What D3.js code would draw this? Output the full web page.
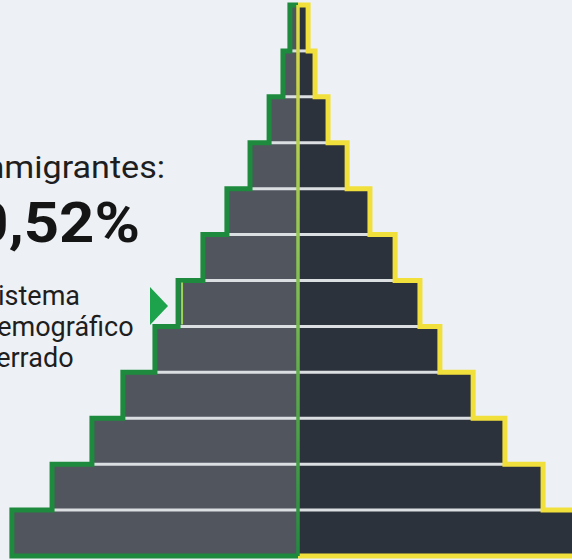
<!DOCTYPE html>
<html>
<head>
<meta charset="utf-8">
<script src="https://cdn.jsdelivr.net/npm/d3@7"></script>
<style>
  html, body { margin: 0; padding: 0; background: #edf1f5; }
  svg { display: block; font-family: Roboto, "Noto Sans", sans-serif; }
</style>
</head>
<body>
<svg width="572" height="560"></svg>
<script>
// age groups, oldest at the top
const ageGroups = ['55+', '50-54', '45-49', '40-44', '35-39', '30-34', '25-29', '20-24', '15-19', '10-14', '5-9', '0-4'];
// share of population (%)
const menValues = [0.28, 0.52, 1.0, 1.66, 2.46, 3.29, 4.15, 4.95, 6.06, 7.13, 8.51, 9.9];
const womenValues = [0.35, 0.59, 1.04, 1.7, 2.49, 3.36, 4.22, 4.91, 6.06, 7.16, 8.48, 9.9];

const svg = d3.select('svg');
const width = +svg.attr('width');
const height = +svg.attr('height');

const cx = 298;
const rows = ageGroups.map((age, i) => ({ age, men: menValues[i], women: womenValues[i] }));

const xScale = d3.scaleLinear().domain([0, 10]).range([0, 289]);
const yScale = d3.scaleBand().domain(ageGroups).range([5, 556]).padding(0);
const bw = yScale.bandwidth();

const defs = svg.append('defs');
const grad = defs.append('linearGradient')
    .attr('id', 'centerGrad')
    .attr('gradientUnits', 'userSpaceOnUse')
    .attr('x1', 0).attr('y1', 5).attr('x2', 0).attr('y2', 556);
grad.append('stop').attr('offset', 0).attr('stop-color', '#e6dc45');
grad.append('stop').attr('offset', 0.45).attr('stop-color', '#8cc453');
grad.append('stop').attr('offset', 1).attr('stop-color', '#1f8a3e');

const g = svg.append('g');

// bars
g.selectAll('.men')
    .data(rows)
    .enter()
    .append('rect')
    .attr('class', 'men')
    .attr('x', d => cx - xScale(d.men))
    .attr('y', d => yScale(d.age))
    .attr('width', d => xScale(d.men))
    .attr('height', bw)
    .attr('fill', '#50555e');

g.selectAll('.women')
    .data(rows)
    .enter()
    .append('rect')
    .attr('class', 'women')
    .attr('x', cx)
    .attr('y', d => yScale(d.age))
    .attr('width', d => xScale(d.women))
    .attr('height', bw)
    .attr('fill', '#2c323c');

// light separators between rows
g.selectAll('.sep')
    .data(rows.slice(0, -1))
    .enter()
    .append('line')
    .attr('class', 'sep')
    .attr('x1', d => cx - xScale(d.men))
    .attr('x2', d => cx + xScale(d.women))
    .attr('y1', d => yScale(d.age) + bw)
    .attr('y2', d => yScale(d.age) + bw)
    .attr('stroke', '#dcdfe2')
    .attr('stroke-width', 3);

// stepped outlines
const stepPath = (side, value) => {
    const sign = side === 'left' ? -1 : 1;
    const p = d3.path();
    p.moveTo(cx, yScale(rows[0].age));
    rows.forEach(d => {
        const x = cx + sign * xScale(value(d));
        const y0 = yScale(d.age);
        p.lineTo(x, y0);
        p.lineTo(x, y0 + bw);
    });
    p.lineTo(cx, yScale(rows[rows.length - 1].age) + bw);
    return p.toString();
};

g.append('path')
    .attr('d', stepPath('right', d => d.women))
    .attr('fill', 'none')
    .attr('stroke', '#f1e03c')
    .attr('stroke-width', 5)
    .attr('stroke-linejoin', 'miter');

g.append('path')
    .attr('d', stepPath('left', d => d.men))
    .attr('fill', 'none')
    .attr('stroke', '#1e8a3d')
    .attr('stroke-width', 5)
    .attr('stroke-linejoin', 'miter');

// highlight on the row the arrow points at
const hl = rows[6];
g.append('line')
    .attr('x1', cx - xScale(hl.men) + 4)
    .attr('x2', cx - xScale(hl.men) + 4)
    .attr('y1', yScale(hl.age) + 2)
    .attr('y2', yScale(hl.age) + bw - 2)
    .attr('stroke', '#9fd35a')
    .attr('stroke-width', 2);

// center line
g.append('line')
    .attr('x1', cx).attr('x2', cx)
    .attr('y1', 5).attr('y2', 556)
    .attr('stroke', 'url(#centerGrad)')
    .attr('stroke-width', 3.5);

// annotations
svg.append('g')
    .attr('transform', 'translate(165,178) scale(1.1,1)')
    .append('text')
    .attr('text-anchor', 'end')
    .attr('fill', '#1e1e1e')
    .style('font-size', '31px')
    .text('Inmigrantes:');

svg.append('g')
    .attr('transform', 'translate(140,242) scale(1.1,1)')
    .append('text')
    .attr('text-anchor', 'end')
    .attr('fill', '#151515')
    .style('font-size', '56px')
    .style('font-weight', 'bold')
    .text('0,52%');

const note = ['Sistema', 'demográfico', 'cerrado'];
svg.append('g')
    .attr('transform', 'translate(-18,305)')
    .selectAll('.note')
    .data(note)
    .enter()
    .append('text')
    .attr('class', 'note')
    .attr('x', 0)
    .attr('y', (d, i) => i * 31)
    .attr('fill', '#1e1e1e')
    .style('font-size', '27px')
    .text(d => d);

svg.append('path')
    .attr('d', 'M150,287 L168,306 L150,325 Z')
    .attr('fill', '#1ca34b');
</script>
</body>
</html>
